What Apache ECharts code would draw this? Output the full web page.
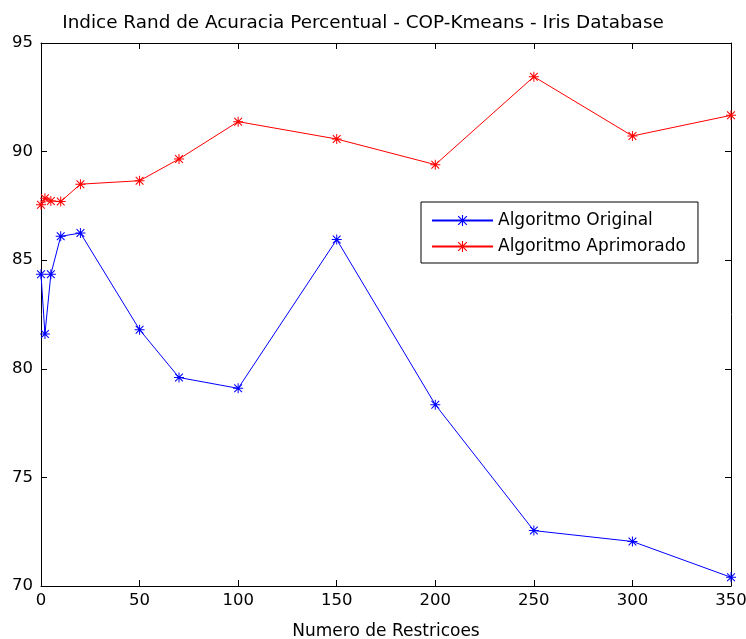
<!DOCTYPE html>
<html>
<head>
<meta charset="utf-8">
<script src="https://cdn.jsdelivr.net/npm/echarts@6/dist/echarts.min.js"></script>
<style>html,body{margin:0;padding:0;background:#fff;}#c{width:746px;height:639px;}</style>
</head>
<body>
<div id="c"></div>
<script>
var restricoes = [0, 2, 5, 10, 20, 50, 70, 100, 150, 200, 250, 300, 350];
var original = [84.35, 81.6, 84.35, 86.1, 86.25, 81.8, 79.6, 79.1, 85.95, 78.35, 72.55, 72.05, 70.4];
var aprimorado = [87.55, 87.85, 87.73, 87.7, 88.5, 88.66, 89.66, 91.38, 90.58, 89.4, 93.45, 90.72, 91.67];
var xTicks = [0, 50, 100, 150, 200, 250, 300, 350];
var yTicks = [70, 75, 80, 85, 90, 95];
var titleText = 'Indice Rand de Acuracia Percentual - COP-Kmeans - Iris Database';
var xName = 'Numero de Restricoes';
var names = ['Algoritmo Original', 'Algoritmo Aprimorado'];

var star = 'path://M9 0L11 0L11 20L9 20Z M0 9L20 9L20 11L0 11Z M1.5 3L3 1.5L18.5 17L17 18.5Z M17 1.5L18.5 3L3 18.5L1.5 17Z';
function pairs(xs, ys){ return xs.map(function(x,i){ return [x, ys[i]]; }); }
var font = 'DejaVu Sans';
var fs = 16.5;
var chart = echarts.init(document.getElementById('c'));
var axisCommon = {
  axisLine: {show: true, onZero: false, lineStyle: {color: '#000', width: 1}},
  axisTick: {show: true, inside: true, length: 6, lineStyle: {color: '#000'}},
  splitLine: {show: false}
};
chart.setOption({
  backgroundColor: '#fff',
  animation: false,
  textStyle: {fontFamily: font},
  title: {text: titleText, left: 358, textAlign: 'center', top: 9,
    textStyle: {fontFamily: font, fontSize: 18.4, fontWeight: 'normal', color: '#000'}},
  grid: {left: 41, right: 15, top: 43, bottom: 53, outerBoundsMode: 'none', containLabel: false},
  legend: {
    orient: 'vertical', left: 421, top: 202,
    padding: [10, 12, 8, 10], itemGap: 9, itemWidth: 61, itemHeight: 14,
    borderColor: '#000', borderWidth: 1, backgroundColor: '#fff',
    textStyle: {fontFamily: font, fontSize: 17, lineHeight: 14, color: '#000'},
    data: names
  },
  xAxis: [
    Object.assign({type: 'value', min: xTicks[0], max: xTicks[xTicks.length-1], interval: 50,
      position: 'bottom', name: xName, nameLocation: 'middle', nameGap: 37,
      nameTextStyle: {fontFamily: font, fontSize: 17, color: '#000'},
      axisLabel: {color: '#000', fontSize: fs, fontFamily: font, margin: 6}}, axisCommon),
    Object.assign({type: 'value', min: xTicks[0], max: xTicks[xTicks.length-1], interval: 50,
      position: 'top', axisLabel: {show: false}}, axisCommon)
  ],
  yAxis: [
    Object.assign({type: 'value', min: yTicks[0], max: yTicks[yTicks.length-1], interval: 5,
      position: 'left',
      axisLabel: {color: '#000', fontSize: fs, fontFamily: font, margin: 8}}, axisCommon),
    Object.assign({type: 'value', min: yTicks[0], max: yTicks[yTicks.length-1], interval: 5,
      position: 'right', axisLabel: {show: false}}, axisCommon)
  ],
  series: [
    {name: names[0], type: 'line', data: pairs(restricoes, original),
      symbol: star, symbolSize: 10, showAllSymbol: true,
      lineStyle: {color: '#0000ff', width: 1}, itemStyle: {color: '#0000ff'}},
    {name: names[1], type: 'line', data: pairs(restricoes, aprimorado),
      symbol: star, symbolSize: 10, showAllSymbol: true,
      lineStyle: {color: '#ff0000', width: 1}, itemStyle: {color: '#ff0000'}}
  ]
});
</script>
</body>
</html>
